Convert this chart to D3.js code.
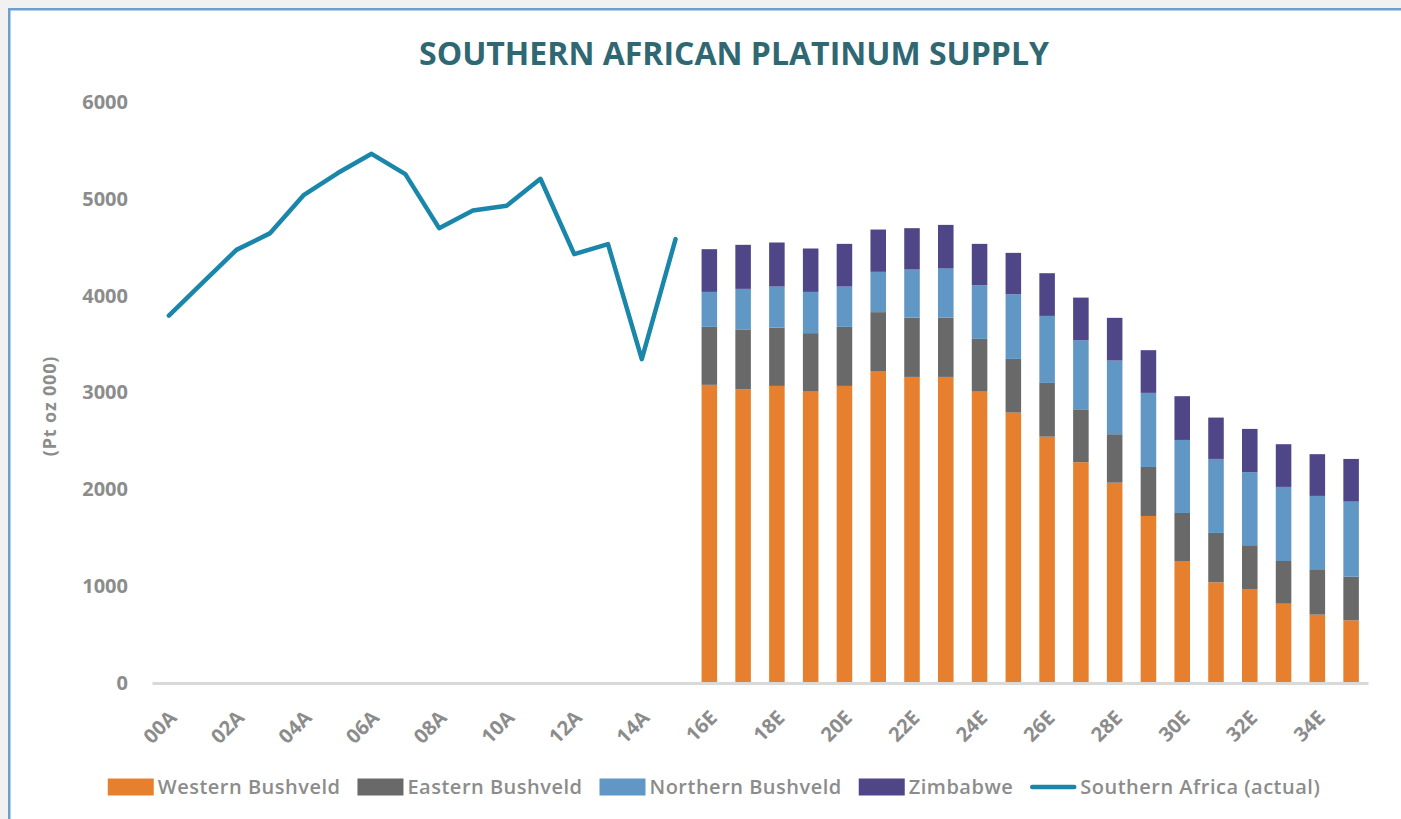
<!DOCTYPE html>
<html>
<head>
<meta charset="utf-8">
<script src="https://cdn.jsdelivr.net/npm/d3@7"></script>
<style>
  body { margin: 0; background: #f1f1f1; }
  svg { display: block; }
  text { font-family: "Open Sans", sans-serif; }
</style>
</head>
<body>
<div id="wrapper"></div>
<script>
// categories
const years = ['00A', '01A', '02A', '03A', '04A', '05A', '06A', '07A', '08A', '09A',
    '10A', '11A', '12A', '13A', '14A', '15A', '16E', '17E', '18E', '19E',
    '20E', '21E', '22E', '23E', '24E', '25E', '26E', '27E', '28E', '29E',
    '30E', '31E', '32E', '33E', '34E', '35E']
const actualYears = years.slice(0, 16)
const forecastYears = years.slice(16)

// Southern Africa (actual), Pt oz 000
const actualSupply = [3794, 4134, 4473, 4646, 5041, 5266, 5465, 5255, 4697, 4879,
    4928, 5207, 4429, 4532, 3344, 4584]

// forecast by region, Pt oz 000
const western = [3079, 3034, 3068, 3009, 3068, 3216, 3161, 3161, 3009, 2792,
    2544, 2280, 2069, 1725, 1260, 1040, 971, 819, 706, 648]
const eastern = [599, 613, 602, 604, 610, 614, 613, 613, 545, 555,
    555, 540, 500, 506, 496, 510, 452, 441, 461, 450]
const northern = [361, 423, 424, 426, 416, 416, 496, 506, 554, 668,
    692, 720, 761, 765, 754, 764, 754, 765, 765, 775]
const zimbabwe = [441, 455, 455, 448, 441, 437, 427, 451, 427, 427,
    441, 440, 441, 441, 452, 427, 447, 441, 431, 441]

const seriesNames = ['Western Bushveld', 'Eastern Bushveld', 'Northern Bushveld', 'Zimbabwe']
const lineName = 'Southern Africa (actual)'
const yTicks = [0, 1000, 2000, 3000, 4000, 5000, 6000]

function drawChart() {
    const width = 1401
    const height = 819
    const colors = ['#e6802e', '#696969', '#6097c4', '#4f4688']
    const lineColor = '#1a87aa'
    const textGrey = '#8c8c8c'

    const plot = { left: 152, right: 1368, top: 102, bottom: 683 }

    const svg = d3.select('#wrapper')
        .append('svg')
        .attr('width', width)
        .attr('height', height)

    // chart frame
    svg.append('rect')
        .attr('x', 9.25)
        .attr('y', 9.25)
        .attr('width', width + 20)
        .attr('height', height + 20)
        .attr('fill', '#ffffff')
        .attr('stroke', '#6a9fce')
        .attr('stroke-width', 2.5)

    const xScale = d3.scaleBand()
        .domain(years)
        .range([plot.left, plot.right])
        .paddingInner(0.54)
        .paddingOuter(0.27)

    const yScale = d3.scaleLinear()
        .domain([0, 6000])
        .range([plot.bottom, plot.top])

    // title
    svg.append('text')
        .attr('x', 734)
        .attr('y', 65)
        .attr('text-anchor', 'middle')
        .attr('fill', '#2f6872')
        .style('font-size', '32px')
        .style('font-weight', 700)
        .text('SOUTHERN AFRICAN PLATINUM SUPPLY')

    // y axis
    const yAxis = svg.append('g')
        .attr('transform', `translate(${plot.left}, 0)`)
        .call(d3.axisLeft(yScale).tickValues(yTicks).tickSize(0).tickPadding(24).tickFormat(d3.format('d')))
    yAxis.select('.domain').remove()
    yAxis.selectAll('text')
        .attr('fill', textGrey)
        .style('font-size', '20px')
        .style('font-weight', 700)
        .style('font-family', '"Open Sans", sans-serif')

    svg.append('text')
        .attr('transform', `translate(56, 406) rotate(-90)`)
        .attr('text-anchor', 'middle')
        .attr('fill', textGrey)
        .style('font-size', '18px')
        .style('font-weight', 700)
        .style('letter-spacing', '0.8px')
        .text('(Pt oz 000)')

    // stacked bars
    const rows = forecastYears.map((year, i) => ({
        year,
        'Western Bushveld': western[i],
        'Eastern Bushveld': eastern[i],
        'Northern Bushveld': northern[i],
        'Zimbabwe': zimbabwe[i]
    }))
    const stacked = d3.stack().keys(seriesNames)(rows)

    svg.append('g')
        .selectAll('g')
        .data(stacked)
        .join('g')
        .attr('fill', (d, i) => colors[i])
        .selectAll('rect')
        .data(d => d)
        .join('rect')
        .attr('x', d => xScale(d.data.year))
        .attr('width', xScale.bandwidth())
        .attr('y', d => yScale(d[1]))
        .attr('height', d => yScale(d[0]) - yScale(d[1]))

    // baseline / x axis
    const xAxis = svg.append('g')
        .attr('transform', `translate(0, ${plot.bottom})`)
        .call(d3.axisBottom(xScale)
            .tickValues(years.filter((d, i) => i % 2 === 0))
            .tickSize(0))
    xAxis.select('.domain')
        .attr('stroke', '#d9d9d9')
        .attr('stroke-width', 3)
    xAxis.selectAll('text')
        .attr('fill', textGrey)
        .attr('text-anchor', 'end')
        .attr('y', 0)
        .attr('dy', 0)
        .attr('transform', `translate(9, 36) rotate(-45)`)
        .style('font-size', '20px')
        .style('font-weight', 700)
        .style('font-family', '"Open Sans", sans-serif')

    // actual line
    const line = d3.line()
        .x((d, i) => xScale(actualYears[i]) + xScale.bandwidth() / 2)
        .y(d => yScale(d))

    svg.append('path')
        .datum(actualSupply)
        .attr('fill', 'none')
        .attr('stroke', lineColor)
        .attr('stroke-width', 4.5)
        .attr('stroke-linejoin', 'round')
        .attr('stroke-linecap', 'round')
        .attr('d', line)

    // legend
    const legendItems = seriesNames.map((name, i) => ({ name, color: colors[i], type: 'rect' }))
        .concat([{ name: lineName, color: lineColor, type: 'line' }])
    const swatchW = 46
    const swatchH = 17
    const gap = 4
    const itemGap = 17
    const legendY = 787

    const legend = svg.append('g')
    const items = legend.selectAll('g')
        .data(legendItems)
        .join('g')

    items.each(function (d) {
        const g = d3.select(this)
        if (d.type === 'rect') {
            g.append('rect')
                .attr('width', swatchW)
                .attr('height', swatchH)
                .attr('y', legendY - swatchH / 2)
                .attr('fill', d.color)
        } else {
            g.append('line')
                .attr('x1', 2)
                .attr('x2', swatchW - 2)
                .attr('y1', legendY)
                .attr('y2', legendY)
                .attr('stroke', d.color)
                .attr('stroke-width', 4.5)
                .attr('stroke-linecap', 'round')
        }
        g.append('text')
            .attr('x', swatchW + gap)
            .attr('y', legendY + 7)
            .attr('fill', textGrey)
            .style('font-size', '20px')
            .style('font-weight', 600)
            .style('letter-spacing', '0.5px')
            .text(d.name)
    })

    let offset = 0
    const positions = []
    items.each(function (d) {
        positions.push(offset)
        const w = swatchW + gap + d3.select(this).select('text').node().getComputedTextLength()
        offset += w + itemGap
    })
    const totalW = offset - itemGap
    const legendStart = 714 - totalW / 2
    items.attr('transform', (d, i) => `translate(${legendStart + positions[i]}, 0)`)
}

drawChart()
</script>
</body>
</html>
